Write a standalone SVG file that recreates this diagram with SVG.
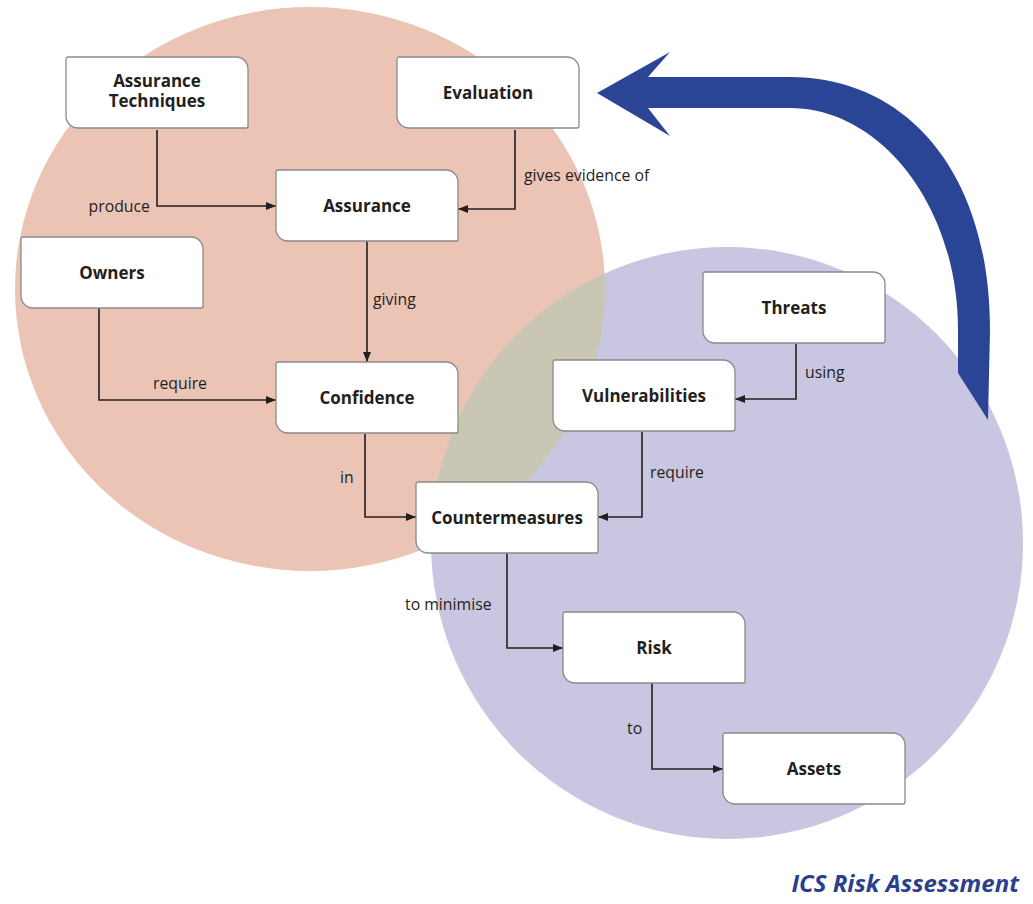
<svg xmlns="http://www.w3.org/2000/svg" width="1033" height="904" viewBox="0 0 1033 904">
  <defs>
    <style>
      .node text { font-family: "Open Sans", "Liberation Sans", sans-serif; font-weight: bold; font-size: 17px; fill: #231f20; text-anchor: middle; }
      .edge { fill: none; stroke: #231f20; stroke-width: 1.6; marker-end: url(#arrow); }
      .lbl { font-family: "Open Sans", "Liberation Sans", sans-serif; font-size: 15.8px; fill: #231f20; }
    </style>
    <marker id="arrow" viewBox="0 0 10 8" refX="10" refY="4" markerWidth="10" markerHeight="8" markerUnits="userSpaceOnUse" orient="auto">
      <path d="M0,0 L10,4 L0,8 Z" fill="#231f20"/>
    </marker>
    <!-- box with two large rounded corners (top-right, bottom-left) -->
    <path id="box" fill="#ffffff" stroke="#8a8a8a" stroke-width="1.3" d="M2,0 H170 A12,12 0 0 1 182,12 V69 A2,2 0 0 1 180,71 H12 A12,12 0 0 1 0,59 V2 A2,2 0 0 1 2,0 Z"/>
    <clipPath id="blueClip">
      <circle cx="727" cy="543" r="296"/>
    </clipPath>
  </defs>

  <rect width="1033" height="904" fill="#ffffff"/>

  <!-- background sets -->
  <g id="sets">
    <ellipse cx="310" cy="289" rx="295" ry="282" fill="#ecc4b6"/>
    <circle cx="727" cy="543" r="296" fill="#c8c6e0"/>
    <ellipse cx="310" cy="289" rx="295" ry="282" fill="#c9c6b4" clip-path="url(#blueClip)"/>
  </g>

  <!-- feedback arrow -->
  <path id="cycle-arrow" d="M597,93 L670,52 L648,77 L790,77 C905,77 990,170 990,330 L988,420 L958,373 L958,330 C958,205 880,108 790,108 L648,108 L670,136 Z" fill="#2b4596"/>

  <!-- connectors -->
  <g id="connectors">
    <path class="edge" d="M157,130 V206 H276"/>
    <path class="edge" d="M515,130 V209 H458"/>
    <path class="edge" d="M367,241 V362"/>
    <path class="edge" d="M99,308 V400 H276"/>
    <path class="edge" d="M365,434 V517 H416"/>
    <path class="edge" d="M796,344 V399 H735"/>
    <path class="edge" d="M642,432 V517 H598"/>
    <path class="edge" d="M507,553 V648 H563"/>
    <path class="edge" d="M652,683 V769 H723"/>

    <text class="lbl" x="150" y="212" text-anchor="end">produce</text>
    <text class="lbl" x="524" y="181">gives evidence of</text>
    <text class="lbl" x="373" y="305">giving</text>
    <text class="lbl" x="153" y="389">require</text>
    <text class="lbl" x="340" y="483">in</text>
    <text class="lbl" x="805" y="378">using</text>
    <text class="lbl" x="650" y="478">require</text>
    <text class="lbl" x="405" y="610">to minimise</text>
    <text class="lbl" x="627" y="734">to</text>
  </g>

  <!-- nodes -->
  <g id="assurance-techniques" class="node" transform="translate(66,57)">
    <use href="#box"/>
    <text x="91" y="30">Assurance</text>
    <text x="91" y="50">Techniques</text>
  </g>
  <g id="evaluation" class="node" transform="translate(397,57)">
    <use href="#box"/>
    <text x="91" y="42">Evaluation</text>
  </g>
  <g id="assurance" class="node" transform="translate(276,170)">
    <use href="#box"/>
    <text x="91" y="42">Assurance</text>
  </g>
  <g id="owners" class="node" transform="translate(21,237)">
    <use href="#box"/>
    <text x="91" y="42">Owners</text>
  </g>
  <g id="confidence" class="node" transform="translate(276,362)">
    <use href="#box"/>
    <text x="91" y="42">Confidence</text>
  </g>
  <g id="threats" class="node" transform="translate(703,272)">
    <use href="#box"/>
    <text x="91" y="42">Threats</text>
  </g>
  <g id="vulnerabilities" class="node" transform="translate(553,360)">
    <use href="#box"/>
    <text x="91" y="42">Vulnerabilities</text>
  </g>
  <g id="countermeasures" class="node" transform="translate(416,482)">
    <use href="#box"/>
    <text x="91" y="42">Countermeasures</text>
  </g>
  <g id="risk" class="node" transform="translate(563,612)">
    <use href="#box"/>
    <text x="91" y="42">Risk</text>
  </g>
  <g id="assets" class="node" transform="translate(723,733)">
    <use href="#box"/>
    <text x="91" y="42">Assets</text>
  </g>

  <text id="title" x="1019" y="892" text-anchor="end" font-family="'Open Sans', 'Liberation Sans', sans-serif" font-weight="bold" font-style="italic" font-size="24" fill="#2b3f8e">ICS Risk Assessment</text>
</svg>
